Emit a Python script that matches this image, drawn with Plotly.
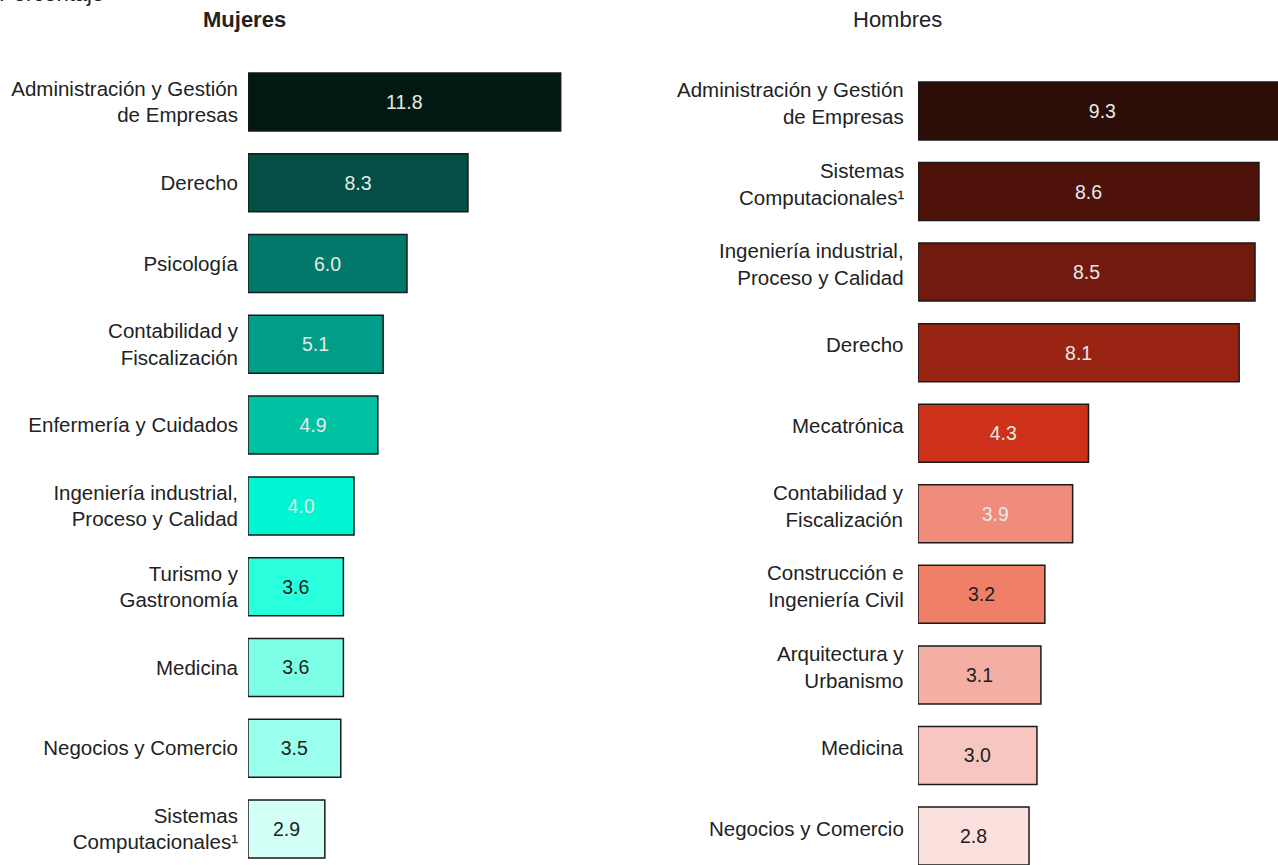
import plotly.graph_objects as go

# ---- data ----
mujeres_cat = [
    "Administración y Gestión<br>de Empresas",
    "Derecho",
    "Psicología",
    "Contabilidad y<br>Fiscalización",
    "Enfermería y Cuidados",
    "Ingeniería industrial,<br>Proceso y Calidad",
    "Turismo y<br>Gastronomía",
    "Medicina",
    "Negocios y Comercio",
    "Sistemas<br>Computacionales¹",
]
mujeres_val = [11.8, 8.3, 6.0, 5.1, 4.9, 4.0, 3.6, 3.6, 3.5, 2.9]

hombres_cat = [
    "Administración y Gestión<br>de Empresas",
    "Sistemas<br>Computacionales¹",
    "Ingeniería industrial,<br>Proceso y Calidad",
    "Derecho",
    "Mecatrónica",
    "Contabilidad y<br>Fiscalización",
    "Construcción e<br>Ingeniería Civil",
    "Arquitectura y<br>Urbanismo",
    "Medicina",
    "Negocios y Comercio",
]
hombres_val = [9.3, 8.6, 8.5, 8.1, 4.3, 3.9, 3.2, 3.1, 3.0, 2.8]

# ---- styles ----
mujeres_colors = ["#001a13", "#034f45", "#00786a", "#009e88", "#00c2a2",
                  "#00f5d2", "#29ffdc", "#7dffe6", "#9affec", "#d2fff6"]
hombres_colors = ["#2d0d07", "#4e120a", "#731a10", "#9a2414", "#cd3119",
                  "#f08c7c", "#ef8067", "#f4afa4", "#f7c6c0", "#fbe1dd"]
LIGHT = "#e6e9e6"
DARK = "#1e1e1e"
mujeres_txtcol = [LIGHT] * 6 + [DARK] * 4
hombres_txtcol = [LIGHT] * 6 + [DARK] * 4

FONT = "Liberation Sans, Arial, sans-serif"
LBL = 20.5
W, H = 1278, 865

fig = go.Figure()

fig.add_trace(go.Bar(
    y=mujeres_cat, x=mujeres_val, orientation="h",
    marker=dict(color=mujeres_colors, line=dict(color="#1a1a1a", width=1.5)),
    width=0.718,
    text=[f"{v:.1f}" for v in mujeres_val], textposition="inside",
    insidetextanchor="middle",
    textfont=dict(family=FONT, size=19.5, color=mujeres_txtcol),
    xaxis="x", yaxis="y", showlegend=False, hoverinfo="skip",
))

fig.add_trace(go.Bar(
    y=hombres_cat, x=hombres_val, orientation="h",
    marker=dict(color=hombres_colors, line=dict(color="#1a1a1a", width=1.5)),
    width=0.72,
    text=[f"{v:.1f}" for v in hombres_val], textposition="inside",
    insidetextanchor="middle",
    textfont=dict(family=FONT, size=19.5, color=hombres_txtcol),
    xaxis="x2", yaxis="y2", showlegend=False, hoverinfo="skip",
))

# panel geometry (pixels): left bars start at 248 (26.5 px/unit), right at 918 (39.65 px/unit)
l0, l1 = 248, 620
r0, r1 = 918, 1278
fig.update_layout(
    width=W, height=H,
    margin=dict(l=0, r=0, t=0, b=0),
    paper_bgcolor="white", plot_bgcolor="white",
    font=dict(family=FONT, size=LBL, color="#222222"),
    xaxis=dict(domain=[l0 / W, l1 / W], range=[0, (l1 - l0) / 26.5],
               visible=False, anchor="y"),
    yaxis=dict(domain=[0, 1 - 61.6 / H], range=[(865 - 61.6) / 80.78 - 0.5, -0.5],
               anchor="x", showline=False, showgrid=False, ticks="",
               ticklabelstandoff=9, tickfont=dict(size=LBL, color="#222222")),
    xaxis2=dict(domain=[r0 / W, 1], range=[0, (r1 - r0) / 39.65],
                visible=False, anchor="y2"),
    yaxis2=dict(domain=[0, 1 - 70.7 / H], range=[(865 - 70.7) / 80.56 - 0.5, -0.5],
                anchor="x2", showticklabels=False, showline=False,
                showgrid=False, ticks=""),
)

# right-side category labels (slightly raised relative to bars)
for c in hombres_cat:
    fig.add_annotation(x=0, y=c, xref="x2", yref="y2", text=c, showarrow=False,
                       xanchor="right", yanchor="middle", align="right",
                       xshift=-12, yshift=8,
                       font=dict(size=LBL, color="#222222"))

# panel titles
fig.add_annotation(x=244 / W, y=1 - 20 / H, xref="paper", yref="paper",
                   text="<b>Mujeres</b>", showarrow=False,
                   xanchor="center", yanchor="middle",
                   font=dict(size=22, color="#222222"))
fig.add_annotation(x=897 / W, y=1 - 20 / H, xref="paper", yref="paper",
                   text="Hombres", showarrow=False,
                   xanchor="center", yanchor="middle",
                   font=dict(size=22, color="#222222"))
fig.add_annotation(x=0, y=1, xref="paper", yref="paper",
                   text="Porcentaje", showarrow=False,
                   xanchor="left", yanchor="bottom", yshift=-8, xshift=-3,
                   font=dict(size=22, color="#222222"))

fig.write_html("out.html",
               config={"displayModeBar": False},
               post_script="document.body.style.margin='0';document.body.style.overflow='hidden';")
